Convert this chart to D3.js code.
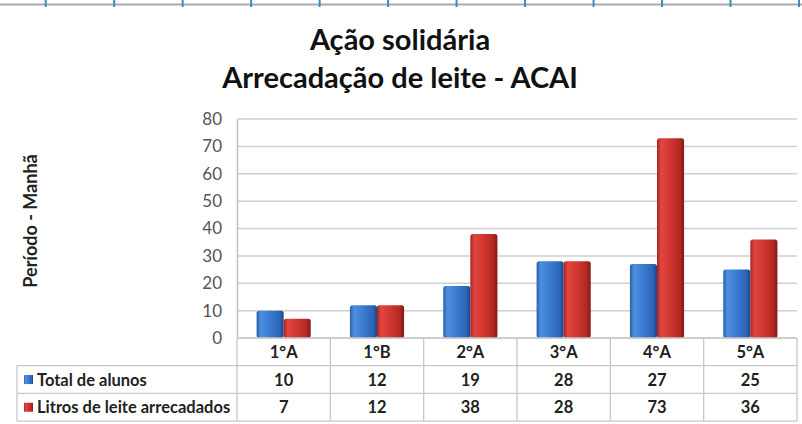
<!DOCTYPE html>
<html>
<head>
  <meta charset="utf-8">
  <title>Ação solidária</title>
  <style>
  body { margin: 0; background: #fff; }
  text { font-family: Lato, "Open Sans", sans-serif; }
  </style>
</head>
<body>
  <svg width="802" height="424"></svg>
  <script src="https://d3js.org/d3.v7.min.js"></script>
  <script>
  // dados
  var categories = ["1°A", "1°B", "2°A", "3°A", "4°A", "5°A"];
  var seriesNames = ["Total de alunos", "Litros de leite arrecadados"];
  var totalAlunos = [10, 12, 19, 28, 27, 25];
  var litrosLeite = [7, 12, 38, 28, 73, 36];
  var yTicks = [0, 10, 20, 30, 40, 50, 60, 70, 80];

  var svg = d3.select("svg");
  var plot = {left: 237, right: 797, top: 119, bottom: 338};
  var rowH = 27.7, tableLeft = 17;

  var series = [totalAlunos, litrosLeite];
  var colors = [
    ["#2b5ea9", "#4d8fe0", "#3a7ad0", "#2c64b6", "#1d4688"],
    ["#a32420", "#e2463f", "#d13530", "#b32823", "#7f1915"]
  ];

  // gradientes (efeito 3D)
  var defs = svg.append("defs");
  colors.forEach(function(c, i) {
    var g = defs.append("linearGradient").attr("id", "grad" + i)
      .attr("x1", "0%").attr("x2", "100%").attr("y1", "0%").attr("y2", "0%");
    [0, 15, 50, 85, 100].forEach(function(o, j) {
      g.append("stop").attr("offset", o + "%").attr("stop-color", c[j]);
    });
  });

  // faixa decorativa no topo
  var ruler = d3.scaleLinear().domain([0, 11]).range([45.7, 799]);
  svg.append("line").attr("x1", 0).attr("x2", 802).attr("y1", 4.5).attr("y2", 4.5)
    .attr("stroke", "#a9a9a9").attr("stroke-width", 2);
  svg.append("g").selectAll("line").data(d3.range(12)).join("line")
    .attr("x1", function(d) { return ruler(d); }).attr("x2", function(d) { return ruler(d); })
    .attr("y1", 0).attr("y2", 7)
    .attr("stroke", "#3a8fb8").attr("stroke-width", 2);

  // título
  svg.append("text").attr("x", 400).attr("y", 50).attr("text-anchor", "middle")
    .attr("font-size", 29).attr("font-weight", "bold").attr("fill", "#111")
    .text("Ação solidária");
  svg.append("text").attr("x", 400).attr("y", 88).attr("text-anchor", "middle")
    .attr("font-size", 29).attr("font-weight", "bold").attr("fill", "#111")
    .text("Arrecadação de leite - ACAI");

  // escalas
  var x = d3.scaleBand().domain(categories).range([plot.left, plot.right]);
  var x1 = d3.scaleBand().domain(seriesNames)
    .range([x.bandwidth() * 0.21, x.bandwidth() * 0.79]);
  var y = d3.scaleLinear().domain([0, 80]).range([plot.bottom, plot.top]);

  // grade
  svg.append("g").selectAll("line").data(yTicks).join("line")
    .attr("x1", plot.left).attr("x2", plot.right)
    .attr("y1", function(d) { return y(d); }).attr("y2", function(d) { return y(d); })
    .attr("stroke", "#cfcfcf").attr("stroke-width", 1.5);

  // eixo y
  var yAxis = svg.append("g")
    .attr("transform", "translate(" + plot.left + ",0)")
    .call(d3.axisLeft(y).tickValues(yTicks).tickSize(0).tickPadding(15));
  yAxis.select(".domain").attr("stroke", "#bfbfbf").attr("stroke-width", 1.5);
  yAxis.selectAll("text").attr("font-size", 17).attr("fill", "#555")
    .style("font-family", "Lato, sans-serif");

  svg.append("text")
    .attr("transform", "translate(37,221) rotate(-90)")
    .attr("text-anchor", "middle").attr("font-size", 18).attr("font-weight", "bold")
    .attr("fill", "#222").text("Período - Manhã");

  // barras
  seriesNames.forEach(function(name, i) {
    svg.append("g").selectAll("rect").data(series[i]).join("rect")
      .attr("x", function(d, k) { return x(categories[k]) + x1(name); })
      .attr("y", function(d) { return y(d); })
      .attr("width", x1.bandwidth())
      .attr("height", function(d) { return y(0) - y(d); })
      .attr("rx", 2.5)
      .attr("fill", "url(#grad" + i + ")");
  });

  // tabela de dados
  var tbl = svg.append("g").attr("stroke", "#c8c8c8").attr("stroke-width", 1.3);
  var rows = [plot.bottom, plot.bottom + rowH, plot.bottom + 2 * rowH, plot.bottom + 3 * rowH];
  tbl.append("line").attr("x1", plot.left).attr("x2", plot.right)
    .attr("y1", rows[0]).attr("y2", rows[0]);
  tbl.selectAll("line.h").data(rows.slice(1)).join("line").attr("class", "h")
    .attr("x1", tableLeft).attr("x2", plot.right)
    .attr("y1", function(d) { return d; }).attr("y2", function(d) { return d; });
  tbl.selectAll("line.v").data(categories.concat(["end"])).join("line").attr("class", "v")
    .attr("x1", function(d) { return d === "end" ? plot.right : x(d); })
    .attr("x2", function(d) { return d === "end" ? plot.right : x(d); })
    .attr("y1", rows[0]).attr("y2", rows[3]);
  tbl.append("line").attr("x1", tableLeft).attr("x2", tableLeft)
    .attr("y1", rows[1]).attr("y2", rows[3]);

  // cabeçalho
  svg.append("g").selectAll("text").data(categories).join("text")
    .attr("x", function(d) { return x(d) + x.bandwidth() / 2; })
    .attr("y", rows[0] + rowH / 2 + 6)
    .attr("text-anchor", "middle").attr("font-size", 16.5).attr("font-weight", "bold")
    .attr("fill", "#222").text(function(d) { return d; });

  // valores e legenda
  seriesNames.forEach(function(name, i) {
    var cy = rows[i + 1] + rowH / 2;
    svg.append("g").selectAll("text").data(series[i]).join("text")
      .attr("x", function(d, k) { return x(categories[k]) + x.bandwidth() / 2; })
      .attr("y", cy + 6)
      .attr("text-anchor", "middle").attr("font-size", 16.5).attr("font-weight", "bold")
      .attr("fill", "#222").text(function(d) { return d; });
    svg.append("rect").attr("x", 24).attr("y", cy - 4.5).attr("width", 9).attr("height", 9)
      .attr("fill", "url(#grad" + i + ")");
    svg.append("text").attr("x", 37).attr("y", cy + 6)
      .attr("font-size", 16.5).attr("font-weight", "bold").attr("fill", "#222").text(name);
  });
  </script>
</body>
</html>
